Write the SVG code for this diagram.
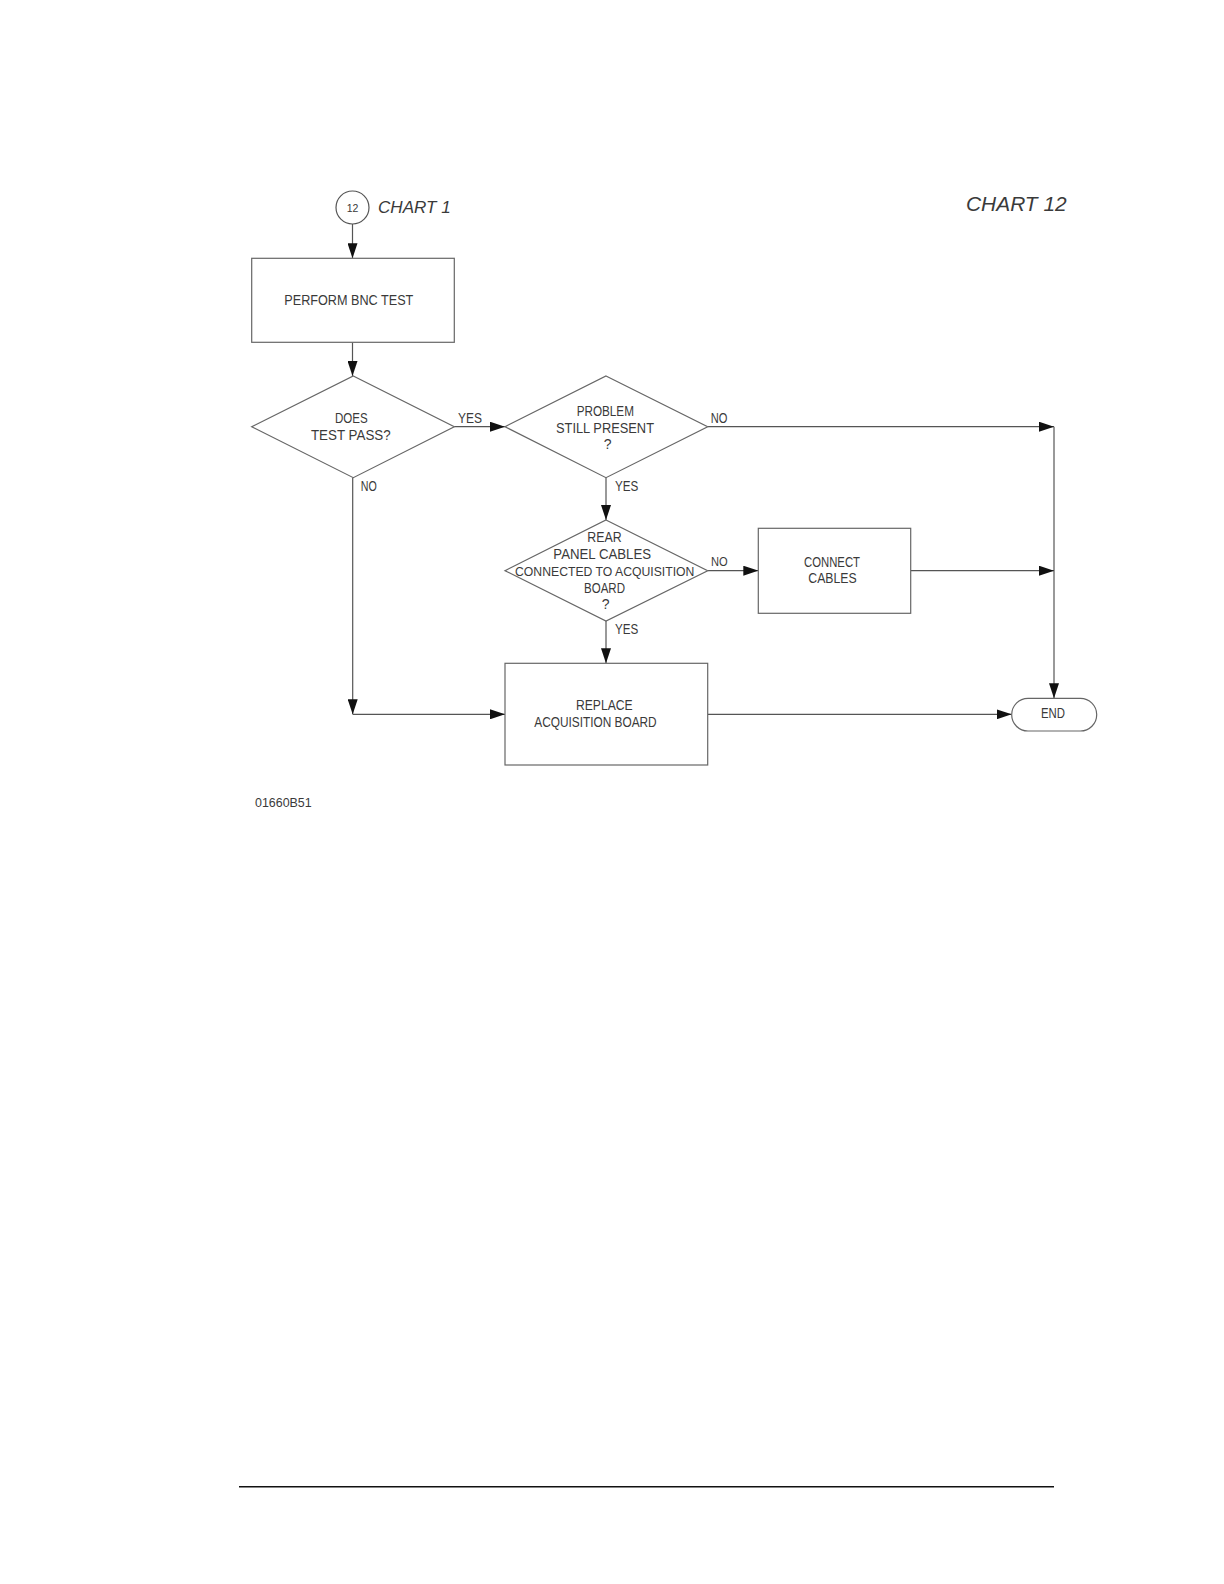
<svg xmlns="http://www.w3.org/2000/svg" width="1224" height="1584" viewBox="0 0 1224 1584">
<style>
  .box { fill: #fff; stroke: #666; stroke-width: 1.2; }
  .ln { fill: none; stroke: #555; stroke-width: 1.2; }
  .t { font-family: "Liberation Sans", Arial, sans-serif; font-size: 14px; fill: #3a3a3a; text-anchor: middle; }
  .tl { font-family: "Liberation Sans", Arial, sans-serif; font-size: 14px; fill: #3a3a3a; }
  .ti { font-family: "Liberation Sans", Arial, sans-serif; font-style: italic; fill: #3a3a3a; }
</style>
<defs>
  <marker id="arr" viewBox="0 0 15 10" refX="15" refY="5" markerWidth="15" markerHeight="10" markerUnits="userSpaceOnUse" orient="auto">
    <path d="M0,0 L15,5 L0,10 Z" fill="#111"/>
  </marker>
</defs>
<rect width="1224" height="1584" fill="#fff"/>

<g id="connectors">
  <line class="ln" x1="352.5" y1="224" x2="352.5" y2="258.3" marker-end="url(#arr)"/>
  <line class="ln" x1="352.5" y1="342.3" x2="352.5" y2="376" marker-end="url(#arr)"/>
  <line class="ln" x1="454.3" y1="426.7" x2="505" y2="426.7" marker-end="url(#arr)"/>
  <line class="ln" x1="707.7" y1="426.7" x2="1054" y2="426.7" marker-end="url(#arr)"/>
  <line class="ln" x1="1054" y1="426.7" x2="1054" y2="698.3" marker-end="url(#arr)"/>
  <line class="ln" x1="606" y1="477.7" x2="606" y2="520" marker-end="url(#arr)"/>
  <line class="ln" x1="707.7" y1="570.7" x2="758.3" y2="570.7" marker-end="url(#arr)"/>
  <line class="ln" x1="910.7" y1="570.7" x2="1054" y2="570.7" marker-end="url(#arr)"/>
  <line class="ln" x1="606" y1="621" x2="606" y2="663.3" marker-end="url(#arr)"/>
  <line class="ln" x1="352.7" y1="477.7" x2="352.7" y2="714.3" marker-end="url(#arr)"/>
  <line class="ln" x1="352.7" y1="714.3" x2="505" y2="714.3" marker-end="url(#arr)"/>
  <line class="ln" x1="707.7" y1="714.3" x2="1011.7" y2="714.3" marker-end="url(#arr)"/>
  <text class="tl" x="458" y="423.3" textLength="24" lengthAdjust="spacingAndGlyphs">YES</text>
  <text class="tl" x="360.7" y="490.7" textLength="16" lengthAdjust="spacingAndGlyphs">NO</text>
  <text class="tl" x="710.7" y="422.7" textLength="16.7" lengthAdjust="spacingAndGlyphs">NO</text>
  <text class="tl" x="615" y="490.7" textLength="23.3" lengthAdjust="spacingAndGlyphs">YES</text>
  <text class="tl" x="711" y="566" style="font-size:13px" textLength="16.7" lengthAdjust="spacingAndGlyphs">NO</text>
  <text class="tl" x="615" y="634" textLength="23.3" lengthAdjust="spacingAndGlyphs">YES</text>
</g>

<g id="start">
  <circle cx="352.5" cy="207.5" r="16.5" fill="#fff" stroke="#555" stroke-width="1.2"/>
  <text class="t" x="352.5" y="211.7" style="font-size:11px" textLength="11.7" lengthAdjust="spacingAndGlyphs">12</text>
  <text class="ti" x="378" y="213" style="font-size:16.5px" textLength="72.7" lengthAdjust="spacingAndGlyphs">CHART 1</text>
</g>

<g id="title">
  <text class="ti" x="966" y="211" style="font-size:21px" textLength="100.7" lengthAdjust="spacingAndGlyphs">CHART 12</text>
</g>

<g id="perform-bnc-test">
  <rect class="box" x="251.7" y="258.3" width="202.6" height="84"/>
  <text class="t" x="348.8" y="305" textLength="129" lengthAdjust="spacingAndGlyphs">PERFORM BNC TEST</text>
</g>

<g id="does-test-pass">
  <polygon class="box" points="353.3,376 454.3,426.7 353.3,477.7 251.7,426.7"/>
  <text class="t" x="351.3" y="423.3" textLength="32.7" lengthAdjust="spacingAndGlyphs">DOES</text>
  <text class="t" x="350.8" y="440" textLength="79.7" lengthAdjust="spacingAndGlyphs">TEST PASS?</text>
</g>

<g id="problem-still-present">
  <polygon class="box" points="606,376 707.7,426.7 606,477.7 505,426.7"/>
  <text class="t" x="605.3" y="415.7" textLength="57.3" lengthAdjust="spacingAndGlyphs">PROBLEM</text>
  <text class="t" x="605" y="432.7" textLength="98" lengthAdjust="spacingAndGlyphs">STILL PRESENT</text>
  <text class="t" x="607.7" y="449">?</text>
</g>

<g id="cables-connected">
  <polygon class="box" points="606,520 707.7,570.7 606,621 505,570.7"/>
  <text class="t" x="604.5" y="541.7" textLength="34.3" lengthAdjust="spacingAndGlyphs">REAR</text>
  <text class="t" x="602.2" y="559" textLength="97.7" lengthAdjust="spacingAndGlyphs">PANEL CABLES</text>
  <text class="t" x="604.7" y="576" style="font-size:12.2px" textLength="179.3" lengthAdjust="spacingAndGlyphs">CONNECTED TO ACQUISITION</text>
  <text class="t" x="604.5" y="592.7" textLength="41" lengthAdjust="spacingAndGlyphs">BOARD</text>
  <text class="t" x="605.7" y="609.3">?</text>
</g>

<g id="connect-cables">
  <rect class="box" x="758.3" y="528.3" width="152.4" height="85"/>
  <text class="t" x="832" y="566.7" textLength="56" lengthAdjust="spacingAndGlyphs">CONNECT</text>
  <text class="t" x="832.5" y="583.3" textLength="48.3" lengthAdjust="spacingAndGlyphs">CABLES</text>
</g>

<g id="replace-acquisition-board">
  <rect class="box" x="505" y="663.3" width="202.7" height="101.7"/>
  <text class="t" x="604.3" y="710" textLength="56.7" lengthAdjust="spacingAndGlyphs">REPLACE</text>
  <text class="t" x="595.5" y="726.7" textLength="122.3" lengthAdjust="spacingAndGlyphs">ACQUISITION BOARD</text>
</g>

<g id="end">
  <rect class="box" x="1011.7" y="698.3" width="85" height="32.7" rx="16.3" ry="16.3"/>
  <text class="t" x="1053" y="717.7" textLength="24" lengthAdjust="spacingAndGlyphs">END</text>
</g>

<g id="footer">
  <text class="tl" x="255" y="806.7" style="font-size:13px" textLength="56.7" lengthAdjust="spacingAndGlyphs">01660B51</text>
  <line x1="239" y1="1486.7" x2="1054" y2="1486.7" stroke="#111" stroke-width="1.6"/>
</g>
</svg>
